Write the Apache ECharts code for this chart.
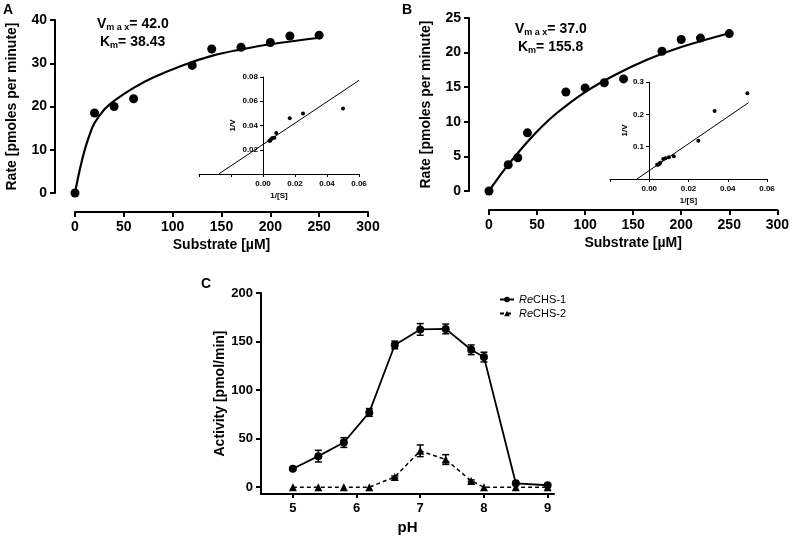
<!DOCTYPE html>
<html>
<head>
<meta charset="utf-8">
<script src="https://cdn.jsdelivr.net/npm/echarts@6/dist/echarts.min.js"></script>
<style>
  html, body { margin: 0; padding: 0; background: #fff; }
  #chart-container { width: 792px; height: 536px; }
</style>
</head>
<body>
<div id="chart-container"></div>
<script>
// panel A - substrate saturation, ReCHS-1
var substrateA = [0, 20, 40, 60, 120, 140, 170, 200, 220, 250];
var rateA = [0, 18.5, 20.0, 21.8, 29.5, 33.3, 33.7, 34.8, 36.3, 36.5];
var fitSA = [0, 5, 10, 15, 20, 30, 40, 60, 80, 110, 140, 170, 200, 250];
var fitVA = [0, 5.5, 10.0, 13.5, 16.2, 19.3, 21.3, 24.3, 26.7, 29.5, 31.7, 33.2, 34.4, 35.9];
// inset A - Lineweaver-Burk
var invSA = [0.05, 0.025, 0.0167, 0.0083, 0.0071, 0.0059, 0.005, 0.0045, 0.004];
var invVA = [0.054, 0.050, 0.0459, 0.0339, 0.0300, 0.0297, 0.0287, 0.0275, 0.0274];
var lineXA = [-0.0277, 0.06];
var lineYA = [0, 0.0772];

// panel B - ReCHS-2
var substrateB = [0, 20, 30, 40, 80, 100, 120, 140, 180, 200, 220, 250];
var rateB = [0, 3.8, 4.8, 8.4, 14.3, 14.9, 15.65, 16.2, 20.2, 21.9, 22.1, 22.75];
var fitSB = [0, 15, 30, 50, 70, 100, 130, 165, 200, 250];
var fitVB = [0, 2.9, 5.5, 8.6, 11.2, 14.3, 16.7, 19.0, 20.8, 22.8];
var invSB = [0.05, 0.0333, 0.025, 0.0125, 0.01, 0.0083, 0.0071, 0.0056, 0.005, 0.0045, 0.004];
var invVB = [0.265, 0.21, 0.118, 0.070, 0.067, 0.064, 0.062, 0.050, 0.046, 0.045, 0.044];
var lineXB = [-0.0063, 0.0506];
var lineYB = [0, 0.236];

// panel C - pH profile
var ph = [5, 5.4, 5.8, 6.2, 6.6, 7.0, 7.4, 7.8, 8.0, 8.5, 9.0];
var chs1 = [19, 32, 46, 77, 146.5, 162.5, 163, 141.5, 134, 4, 2];
var err1 = [1.5, 6, 5, 4, 4, 6, 5, 5, 5, 1, 1];
var chs2 = [0, 0, 0, 0, 10.5, 37.5, 28.5, 6.5, 0, 0, 0];
var err2 = [0, 0, 0, 0, 1, 6, 5, 1, 0, 0, 0];
var phTicks = [5, 6, 7, 8, 9];
var activityTicks = [0, 50, 100, 150, 200];

var FONT = '"Liberation Sans", Arial, sans-serif';

function pairs(xs, ys) {
    return xs.map(function (x, i) { return [x, ys[i]]; });
}
function triples(xs, ys, es) {
    return xs.map(function (x, i) { return [x, ys[i], es[i]]; });
}

function mainX(grid, name) {
    return {
        gridIndex: grid, type: 'value', min: 0, max: 300, interval: 50,
        offset: 19,
        name: name, nameLocation: 'middle', nameGap: 26,
        nameTextStyle: { fontFamily: FONT, fontWeight: 'bold', fontSize: 14, color: '#000' },
        axisLine: { onZero: false, lineStyle: { color: '#000', width: 2 } },
        axisTick: { length: 5, lineStyle: { color: '#000', width: 2 } },
        axisLabel: { margin: 8, fontFamily: FONT, fontWeight: 'bold', fontSize: 14, color: '#000' },
        splitLine: { show: false }
    };
}
function mainY(grid, max, interval) {
    return {
        gridIndex: grid, type: 'value', min: 0, max: max, interval: interval,
        offset: 20,
        name: 'Rate [pmoles per minute]', nameLocation: 'middle', nameGap: 36,
        nameTextStyle: { fontFamily: FONT, fontWeight: 'bold', fontSize: 14, color: '#000' },
        axisLine: { show: true, onZero: false, lineStyle: { color: '#000', width: 2 } },
        axisTick: { show: true, length: 5, lineStyle: { color: '#000', width: 2 } },
        axisLabel: { margin: 8, fontFamily: FONT, fontWeight: 'bold', fontSize: 14, color: '#000' },
        splitLine: { show: false }
    };
}
function insetX(grid, min) {
    return {
        gridIndex: grid, type: 'value', min: min, max: 0.06, interval: 0.02,
        name: '1/[S]', nameLocation: 'middle', nameGap: 18,
        nameTextStyle: { fontFamily: FONT, fontWeight: 'bold', fontSize: 8, color: '#000' },
        axisLine: { onZero: false, lineStyle: { color: '#000', width: 1 } },
        axisTick: { length: 3, lineStyle: { color: '#000' } },
        axisLabel: {
            margin: 6, fontFamily: FONT, fontWeight: 'bold', fontSize: 8, color: '#000',
            formatter: function (v) { return v < -1e-9 ? '' : Math.abs(v).toFixed(2); }
        },
        splitLine: { show: false }
    };
}
// the 1/V axis sits on 1/[S] = 0, shifted into the grid with a negative offset
function insetY(grid, max, interval, digits, gap, shift) {
    return {
        gridIndex: grid, type: 'value', min: 0, max: max, interval: interval,
        offset: -shift,
        name: '1/V', nameLocation: 'middle', nameGap: gap,
        nameTextStyle: { fontFamily: FONT, fontWeight: 'bold', fontSize: 8, color: '#000' },
        axisLine: { show: true, onZero: false, lineStyle: { color: '#000', width: 1 } },
        axisTick: { show: true, length: 3, lineStyle: { color: '#000' } },
        axisLabel: {
            margin: 5, fontFamily: FONT, fontWeight: 'bold', fontSize: 8, color: '#000',
            formatter: function (v) { return v < 1e-9 ? '' : v.toFixed(digits); }
        },
        splitLine: { show: false }
    };
}

function errBar(params, api) {
    var x = api.value(0), y = api.value(1), e = api.value(2);
    if (!e) return null;
    var top = api.coord([x, y + e]);
    var bot = api.coord([x, y - e]);
    var w = 3.5;
    var st = { stroke: '#000', lineWidth: 1.5 };
    return {
        type: 'group',
        children: [
            { type: 'line', shape: { x1: top[0], y1: top[1], x2: bot[0], y2: bot[1] }, style: st },
            { type: 'line', shape: { x1: top[0] - w, y1: top[1], x2: top[0] + w, y2: top[1] }, style: st },
            { type: 'line', shape: { x1: bot[0] - w, y1: bot[1], x2: bot[0] + w, y2: bot[1] }, style: st }
        ]
    };
}

function kinText(x, y, vmax, km) {
    var rich = {
        b: { fontFamily: FONT, fontWeight: 'bold', fontSize: 14, lineHeight: 17, color: '#000' },
        s: { fontFamily: FONT, fontWeight: 'bold', fontSize: 9, lineHeight: 10, verticalAlign: 'bottom', color: '#000' }
    };
    return [
        { type: 'text', left: x, top: y, style: { text: '{b|V}{s|m a x}{b|= ' + vmax + '}', rich: rich } },
        { type: 'text', left: x + 3, top: y + 18, style: { text: '{b|K}{s|m}{b|= ' + km + '}', rich: rich } }
    ];
}

var dot = { color: '#000', opacity: 1 };

var option = {
    backgroundColor: '#fff',
    animation: false,
    grid: [
        { left: 75, top: 20, width: 293, height: 173 },
        { left: 199, top: 77, width: 160, height: 97 },
        { left: 489, top: 18, width: 291, height: 173 },
        { left: 610, top: 82, width: 157, height: 97 },
        { left: 261, top: 293, width: 293, height: 202 }
    ],
    xAxis: [
        mainX(0, 'Substrate [µM]'),
        insetX(1, -0.04),
        mainX(2, 'Substrate [µM]'),
        insetX(3, -0.02),
        {
            gridIndex: 4, type: 'value', min: 4.5, max: 9.1,
            name: 'pH', nameLocation: 'middle', nameGap: 26,
            nameTextStyle: { fontFamily: FONT, fontWeight: 'bold', fontSize: 15, color: '#000' },
            axisLine: { onZero: false, lineStyle: { color: '#000', width: 2 } },
            axisTick: { length: 4, customValues: phTicks, lineStyle: { color: '#000', width: 2 } },
            axisLabel: { margin: 8, customValues: phTicks, fontFamily: FONT, fontWeight: 'bold', fontSize: 13, color: '#000' },
            splitLine: { show: false }
        }
    ],
    yAxis: [
        mainY(0, 40, 10),
        insetY(1, 0.08, 0.02, 2, 26, 64),
        mainY(2, 25, 5),
        insetY(3, 0.3, 0.1, 1, 20, 39),
        {
            gridIndex: 4, type: 'value', min: -7, max: 200,
            name: 'Activity [pmol/min]', nameLocation: 'middle', nameGap: 34,
            nameTextStyle: { fontFamily: FONT, fontWeight: 'bold', fontSize: 14, color: '#000' },
            axisLine: { show: true, onZero: false, lineStyle: { color: '#000', width: 2 } },
            axisTick: { show: true, length: 5, customValues: activityTicks, lineStyle: { color: '#000', width: 2 } },
            axisLabel: { margin: 8, customValues: activityTicks, fontFamily: FONT, fontWeight: 'bold', fontSize: 13, color: '#000' },
            splitLine: { show: false }
        }
    ],
    legend: {
        data: ['ReCHS-1', 'ReCHS-2'],
        orient: 'vertical', left: 494, top: 289,
        itemWidth: 14, itemHeight: 7, itemGap: 3,
        textStyle: { fontFamily: FONT, fontSize: 11, color: '#000', rich: { i: { fontFamily: FONT, fontSize: 11, fontStyle: 'italic', color: '#000' } } },
        formatter: function (name) { return '{i|Re}' + name.slice(2); }
    },
    graphic: [
        { type: 'text', left: 3, top: 3, style: { text: 'A', fontFamily: FONT, fontWeight: 'bold', fontSize: 14, fill: '#000' } },
        { type: 'text', left: 402, top: 3, style: { text: 'B', fontFamily: FONT, fontWeight: 'bold', fontSize: 14, fill: '#000' } },
        { type: 'text', left: 201, top: 277, style: { text: 'C', fontFamily: FONT, fontWeight: 'bold', fontSize: 14, fill: '#000' } }
    ].concat(kinText(97, 17, '42.0', '38.43'), kinText(515, 22, '37.0', '155.8')),
    series: [
        // A
        { type: 'line', xAxisIndex: 0, yAxisIndex: 0, data: pairs(fitSA, fitVA), smooth: 0.4, showSymbol: false,
          lineStyle: { color: '#000', width: 2.2 }, z: 3 },
        { type: 'scatter', xAxisIndex: 0, yAxisIndex: 0, data: pairs(substrateA, rateA), symbolSize: 9,
          itemStyle: dot, z: 4 },
        { type: 'line', xAxisIndex: 1, yAxisIndex: 1, data: pairs(lineXA, lineYA), showSymbol: false,
          lineStyle: { color: '#000', width: 1 } },
        { type: 'scatter', xAxisIndex: 1, yAxisIndex: 1, data: pairs(invSA, invVA), symbolSize: 4,
          itemStyle: dot },
        // B
        { type: 'line', xAxisIndex: 2, yAxisIndex: 2, data: pairs(fitSB, fitVB), smooth: 0.4, showSymbol: false,
          lineStyle: { color: '#000', width: 2.2 }, z: 3 },
        { type: 'scatter', xAxisIndex: 2, yAxisIndex: 2, data: pairs(substrateB, rateB), symbolSize: 9,
          itemStyle: dot, z: 4 },
        { type: 'line', xAxisIndex: 3, yAxisIndex: 3, data: pairs(lineXB, lineYB), showSymbol: false,
          lineStyle: { color: '#000', width: 1 } },
        { type: 'scatter', xAxisIndex: 3, yAxisIndex: 3, data: pairs(invSB, invVB), symbolSize: 4,
          itemStyle: dot },
        // C
        { name: 'ReCHS-1', type: 'line', xAxisIndex: 4, yAxisIndex: 4, data: pairs(ph, chs1),
          symbol: 'circle', symbolSize: 8, lineStyle: { color: '#000', width: 1.8 }, itemStyle: { color: '#000' } },
        { name: 'ReCHS-2', type: 'line', xAxisIndex: 4, yAxisIndex: 4, data: pairs(ph, chs2),
          symbol: 'triangle', symbolSize: 8, lineStyle: { color: '#000', width: 1.5, type: [4, 3] }, itemStyle: { color: '#000' } },
        { type: 'custom', xAxisIndex: 4, yAxisIndex: 4, data: triples(ph, chs1, err1), renderItem: errBar, z: 5 },
        { type: 'custom', xAxisIndex: 4, yAxisIndex: 4, data: triples(ph, chs2, err2), renderItem: errBar, z: 5 }
    ]
};

var myChart = echarts.init(document.getElementById('chart-container'), null, { renderer: 'canvas' });
myChart.setOption(option);
</script>
</body>
</html>
